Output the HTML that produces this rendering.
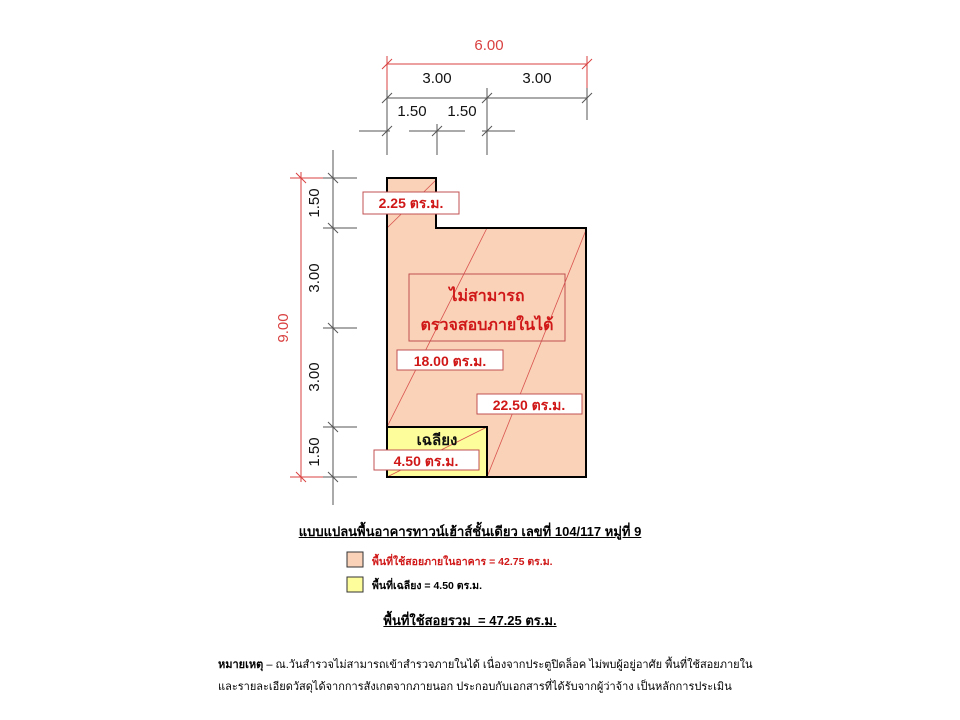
<!DOCTYPE html>
<html><head><meta charset="utf-8"><style>
body{margin:0;width:960px;height:720px;background:#fff;overflow:hidden;position:relative;font-family:"Liberation Sans","Noto Sans CJK SC",sans-serif}
.t{position:absolute;white-space:nowrap}
</style></head><body>
<svg width="960" height="720" style="position:absolute;left:0;top:0" font-family="Liberation Sans, Noto Sans CJK SC, sans-serif">
<path d="M387,178 H436 V228 H586 V477 H387 Z" fill="#f9d2b8"/>
<rect x="387" y="427" width="100" height="50" fill="#fdfd9c"/>
<g stroke="#d9534f" stroke-width="0.8">
<line x1="387" y1="228" x2="436" y2="180"/>
<line x1="387" y1="427" x2="487" y2="228"/>
<line x1="487" y1="477" x2="586" y2="230"/>
<line x1="387" y1="477" x2="487" y2="427"/>
</g>
<path d="M387,178 H436 V228 H586 V477 H387 Z" fill="none" stroke="#000" stroke-width="2"/>
<path d="M387,427 H487 V477" fill="none" stroke="#000" stroke-width="2"/>
<g stroke="#d94040" stroke-width="1">
<line x1="387" y1="64" x2="587" y2="64"/>
<line x1="387" y1="56" x2="387" y2="98"/>
<line x1="587" y1="56" x2="587" y2="98"/>
<line x1="382" y1="69" x2="392" y2="59"/><line x1="582" y1="69" x2="592" y2="59"/>
</g>
<g stroke="#555" stroke-width="1">
<line x1="387" y1="98" x2="587" y2="98"/>
<line x1="387" y1="90" x2="387" y2="155"/>
<line x1="487" y1="88" x2="487" y2="155"/>
<line x1="587" y1="88" x2="587" y2="120"/>
<line x1="382" y1="103" x2="392" y2="93"/><line x1="482" y1="103" x2="492" y2="93"/><line x1="582" y1="103" x2="592" y2="93"/>
<line x1="359" y1="131" x2="390" y2="131"/>
<line x1="409" y1="131" x2="465" y2="131"/>
<line x1="482" y1="131" x2="515" y2="131"/>
<line x1="437" y1="124" x2="437" y2="155"/>
<line x1="382" y1="136" x2="392" y2="126"/><line x1="432" y1="136" x2="442" y2="126"/><line x1="482" y1="136" x2="492" y2="126"/>
</g>
<g stroke="#d94040" stroke-width="1">
<line x1="301" y1="172" x2="301" y2="482"/>
<line x1="290" y1="178" x2="330" y2="178"/>
<line x1="290" y1="477" x2="330" y2="477"/>
<line x1="296" y1="173" x2="306" y2="183"/><line x1="296" y1="472" x2="306" y2="482"/>
</g>
<g stroke="#555" stroke-width="1">
<line x1="333" y1="150" x2="333" y2="505"/>
<g><line x1="323" y1="178" x2="357" y2="178"/><line x1="323" y1="228" x2="357" y2="228"/><line x1="323" y1="328" x2="357" y2="328"/><line x1="323" y1="427" x2="357" y2="427"/><line x1="323" y1="477" x2="357" y2="477"/></g>
<line x1="328" y1="173" x2="338" y2="183"/><line x1="328" y1="223" x2="338" y2="233"/><line x1="328" y1="323" x2="338" y2="333"/><line x1="328" y1="422" x2="338" y2="432"/><line x1="328" y1="472" x2="338" y2="482"/>
</g>
<g font-size="15" fill="#111">
<text x="489" y="50" fill="#d94040" text-anchor="middle">6.00</text>
<text x="437" y="83" text-anchor="middle">3.00</text>
<text x="537" y="83" text-anchor="middle">3.00</text>
<text x="412" y="116" text-anchor="middle">1.50</text>
<text x="462" y="116" text-anchor="middle">1.50</text>
<text transform="translate(288,328) rotate(-90)" fill="#d94040" text-anchor="middle">9.00</text>
<text transform="translate(319,203) rotate(-90)" text-anchor="middle">1.50</text>
<text transform="translate(319,278) rotate(-90)" text-anchor="middle">3.00</text>
<text transform="translate(319,377) rotate(-90)" text-anchor="middle">3.00</text>
<text transform="translate(319,452) rotate(-90)" text-anchor="middle">1.50</text>
</g>
<g fill="#fff" stroke="#c05050" stroke-width="1">
<rect x="363" y="192" width="96" height="22"/>
<rect x="397" y="350" width="106" height="20"/>
<rect x="477" y="394" width="105" height="20"/>
<rect x="374" y="450" width="105" height="20"/>
</g>
<rect x="409" y="274" width="156" height="67" fill="none" stroke="#c05050" stroke-width="1"/>
<g font-size="14" font-weight="bold" fill="#d01818" text-anchor="middle">
<text x="411" y="208">2.25 ตร.ม.</text>
<text x="450" y="366">18.00 ตร.ม.</text>
<text x="529" y="410">22.50 ตร.ม.</text>
<text x="426" y="466">4.50 ตร.ม.</text>
<text x="487" y="301" font-size="16">ไม่สามารถ</text>
<text x="487" y="330" font-size="16">ตรวจสอบภายในได้</text>
<text x="437" y="445" fill="#111" font-size="15">เฉลียง</text>
</g>
<rect x="347" y="552" width="16" height="15" fill="#f9d2b8" stroke="#333"/>
<rect x="347" y="577" width="16" height="15" fill="#fdfd9c" stroke="#333"/>
</svg>
<div class="t" style="left:0;width:940px;text-align:center;top:521px;font-size:13px;font-weight:bold;text-decoration:underline">แบบแปลนพื้นอาคารทาวน์เฮ้าส์ชั้นเดียว เลขที่ 104/117 หมู่ที่ 9</div>
<div class="t" style="left:372px;top:553px;font-size:10.5px;font-weight:bold;color:#d01818">พื้นที่ใช้สอยภายในอาคาร = 42.75 ตร.ม.</div>
<div class="t" style="left:372px;top:577px;font-size:10.5px;font-weight:bold">พื้นที่เฉลียง = 4.50 ตร.ม.</div>
<div class="t" style="left:0;width:940px;text-align:center;top:610px;font-size:13px;font-weight:bold;text-decoration:underline">พื้นที่ใช้สอยรวม&nbsp; = 47.25 ตร.ม.</div>
<div class="t" style="left:218px;top:655px;font-size:11px"><b>หมายเหตุ</b> – ณ.วันสำรวจไม่สามารถเข้าสำรวจภายในได้ เนื่องจากประตูปิดล็อค ไม่พบผู้อยู่อาศัย พื้นที่ใช้สอยภายใน</div>
<div class="t" style="left:218px;top:677px;font-size:11px">และรายละเอียดวัสดุได้จากการสังเกตจากภายนอก ประกอบกับเอกสารที่ได้รับจากผู้ว่าจ้าง เป็นหลักการประเมิน</div>
</body></html>
